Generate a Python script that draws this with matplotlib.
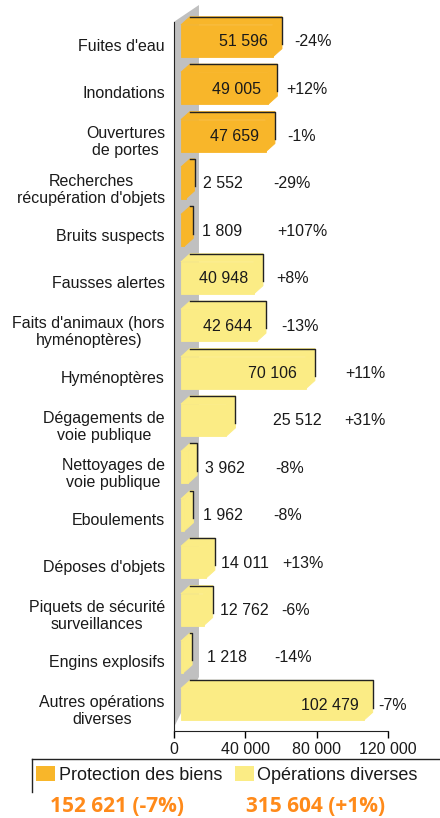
import numpy as np
import matplotlib
matplotlib.use('Agg')
import matplotlib.pyplot as plt
from matplotlib.patches import Patch, Polygon
from matplotlib.lines import Line2D

plt.rcParams['font.family'] = ['Liberation Sans', 'DejaVu Sans']

# categories, top to bottom
categories = ["Fuites d'eau", "Inondations", "Ouvertures\nde portes",
              "Recherches\nrécupération d'objets", "Bruits suspects",
              "Fausses alertes", "Faits d'animaux (hors\nhyménoptères)",
              "Hyménoptères", "Dégagements de\nvoie publique",
              "Nettoyages de\nvoie publique", "Eboulements", "Déposes d'objets",
              "Piquets de sécurité\nsurveillances", "Engins explosifs",
              "Autres opérations\ndiverses"]
values = [51596, 49005, 47659, 2552, 1809,
          40948, 42644, 70106, 25512, 3962, 1962, 14011, 12762, 1218, 102479]
changes = ['-24%', '+12%', '-1%', '-29%', '+107%',
           '+8%', '-13%', '+11%', '+31%', '-8%', '-8%', '+13%', '-6%', '-14%', '-7%']
groups = [0] * 5 + [1] * 10
group_names = ['Protection des biens', 'Opérations diverses']
group_changes = ['-7%', '+1%']

# layout: where the value / change labels sit (x in data units)
val_x = [38700, 35300, 34200, 27500, 26900, 28000, 30300, 55000,
         69000, 28600, 27500, 39800, 39300, 29700, 87500]
pct_x = [78000, 74600, 71800, 66200, 71800, 66700, 70700, 107100,
         107100, 65100, 63900, 72300, 67900, 66700, 122800]

colors = ['#F8B62A', '#FBEC85']
txt = '#1a1a1a'

def fmt(v):
    return f'{v:,}'.replace(',', ' ')

fig = plt.figure(figsize=(4.4, 8.18), dpi=100)
ax = fig.add_axes([174 / 440, 87 / 818, 214 / 440, 726 / 818])
ax.set_xlim(0, 120000)
ax.set_ylim(14.641, -0.675)

# grey back wall
ax.add_patch(Polygon([(0, -0.32), (14000, -0.675), (14000, 13.5), (0, 14.56)],
                     closed=True, color='#C0C0C0', lw=0, zorder=1))

n = len(values)
pos = np.arange(n)
X0, DX, DY, H = 3900, 5050, 0.17, 0.675
yf = pos + 0.08
bar_colors = [colors[g] for g in groups]
ax.barh(yf, values, left=X0, height=H, color=bar_colors, edgecolor=bar_colors,
        linewidth=0.6, zorder=3)

# 3d top and side faces
for y, v, c in zip(yf, values, bar_colors):
    yt, yb = y - H / 2, y + H / 2
    ax.add_patch(Polygon([(X0, yt), (X0 + v, yt), (X0 + v + DX, yt - DY), (X0 + DX, yt - DY)],
                         closed=True, facecolor=c, edgecolor=c, lw=0.6, zorder=3))
    ax.add_patch(Polygon([(X0 + v, yt), (X0 + v + DX, yt - DY), (X0 + v + DX, yb - DY), (X0 + v, yb)],
                         closed=True, facecolor=c, edgecolor=c, lw=0.6, zorder=3))
    ax.plot([X0 + DX, X0 + v + DX, X0 + v + DX], [yt - DY, yt - DY, yb - DY - 0.1],
            color='#222222', lw=1, zorder=4)

for i in range(n):
    ax.text(val_x[i], yf[i] + 0.02, fmt(values[i]), ha='center', va='center',
            fontsize=11.5, color=txt, zorder=5)
    ax.text(pct_x[i], yf[i] + 0.02, changes[i], ha='center', va='center',
            fontsize=11.5, color=txt, zorder=5)

ax.set_yticks(pos + 0.17)
ax.set_yticklabels(categories, fontsize=11.5, color=txt, linespacing=1.15)
for lab in ax.get_yticklabels():
    lab.set_multialignment('center')
ax.tick_params(axis='y', length=0, pad=6.5)

ax.set_xticks([0, 40000, 80000, 120000])
ax.set_xticklabels([fmt(t) for t in [0, 40000, 80000, 120000]], fontsize=11.5, color=txt)
ax.tick_params(axis='x', length=5, width=1, pad=3)

ax.spines['top'].set_visible(False)
ax.spines['right'].set_visible(False)
ax.spines['left'].set_bounds(-0.32, 14.641)
ax.spines['left'].set_color('#222222')
ax.spines['bottom'].set_color('#222222')
ax.patch.set_alpha(0)

# legend
handles = [Patch(facecolor=colors[k], edgecolor='none') for k in range(2)]
fig.legend(handles, group_names, loc='center left', bbox_to_anchor=(36 / 440, 43 / 818),
           ncol=2, frameon=False, fontsize=13, handlelength=1.05, handleheight=0.9,
           handletextpad=0.2, columnspacing=0.7, borderpad=0, borderaxespad=0,
           labelcolor=txt)
fig.add_artist(Line2D([32 / 440, 1], [59 / 818, 59 / 818], color='#222222', lw=1))
fig.add_artist(Line2D([32 / 440, 32 / 440], [59 / 818, 26 / 818], color='#222222', lw=1))

# totals per group
totals = [sum(v for v, g in zip(values, groups) if g == k) for k in range(2)]
for k, xc in enumerate([117, 316]):
    fig.text(xc / 440, 12 / 818, f'{fmt(totals[k])} ({group_changes[k]})',
             ha='center', va='center', color='#FF8A1A', fontsize=15,
             fontweight='bold', family=['Open Sans', 'DejaVu Sans'])

fig.savefig('out.png', dpi=100)
